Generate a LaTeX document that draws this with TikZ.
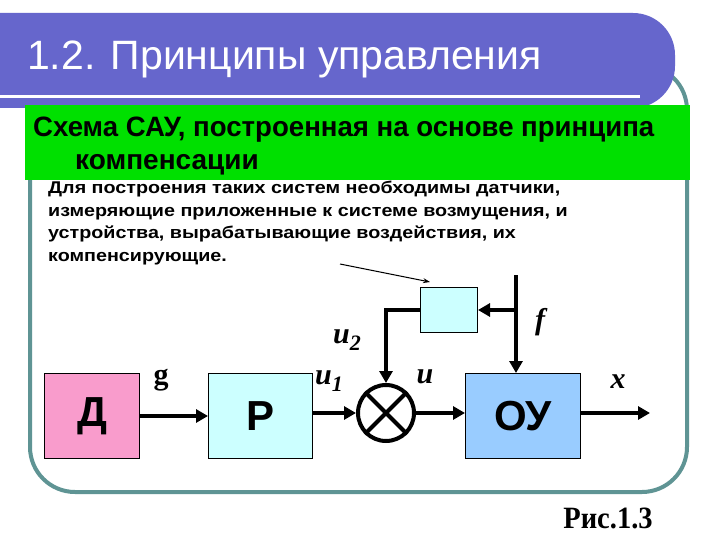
\documentclass[tikz,border=0pt]{standalone}
\usepackage{fontspec}
\setmainfont{Liberation Serif}
\setsansfont{Liberation Sans}
\usetikzlibrary{arrows.meta}
\definecolor{barc}{HTML}{6666CC}
\definecolor{framec}{HTML}{5F9494}
\definecolor{greenc}{HTML}{00E000}
\definecolor{pinkc}{HTML}{F99CCC}
\definecolor{cyanc}{HTML}{CCFFFF}
\definecolor{bluec}{HTML}{99CCFF}
\begin{document}
\begin{tikzpicture}[x=1pt,y=-1pt,
  blk/.style={draw=black,line width=1pt,inner sep=0pt,anchor=north west},
  sig/.style={line width=4.5pt,-{Triangle[length=12pt,width=13pt]}},
  lab/.style={font=\fontsize{30}{30}\selectfont\bfseries\itshape},
  para/.style={font=\sffamily\bfseries\fontsize{17}{17}\selectfont,anchor=base west,inner sep=0pt}]
\useasboundingbox (0,0) rectangle (720,540);
\fill[white] (0,0) rectangle (720,540);
% frame
\draw[framec,line width=4pt,rounded corners=45pt] (30,65) rectangle (687,492);
% title bar
\fill[barc,rounded corners=42pt] (-60,13) rectangle (675,108);
\draw[white,line width=3pt] (0,97) -- (640,97);
\node[white,font=\sffamily\fontsize{41}{41}\selectfont,anchor=base west,inner sep=0pt] (title) at (27,70) {1.2. Принципы управления};
% green band
\fill[greenc] (25,105) rectangle (690,180);
\node[font=\sffamily\bfseries\fontsize{28}{28}\selectfont,anchor=base west,inner sep=0pt] (h1) at (33,137) {\scalebox{0.985}[1]{Схема САУ, построенная на основе принципа}};
\node[font=\sffamily\bfseries\fontsize{28}{28}\selectfont,anchor=base west,inner sep=0pt] (h2) at (75,170) {компенсации};
% paragraph
\node[para] (p1) at (48,194) {\scalebox{1.16}[1]{Для построения таких систем необходимы датчики,}};
\node[para] (p2) at (48,217) {\scalebox{1.16}[1]{измеряющие приложенные к системе возмущения, и}};
\node[para] (p3) at (48,239) {\scalebox{1.16}[1]{устройства, вырабатывающие воздействия, их}};
\node[para] (p4) at (48,261) {\scalebox{1.16}[1]{компенсирующие.}};
% blocks
\node[blk,fill=pinkc,minimum width=95pt,minimum height=85pt,font=\sffamily\bfseries\fontsize{42}{42}\selectfont] (D) at (44,373) {Д};
\node[blk,fill=cyanc,minimum width=104pt,minimum height=85pt,font=\sffamily\bfseries\fontsize{42}{42}\selectfont] (R) at (208,373) {Р};
\node[blk,fill=bluec,minimum width=115pt,minimum height=85pt,font=\sffamily\bfseries\fontsize{42}{42}\selectfont] (OU) at (465,373) {ОУ};
\node[blk,fill=cyanc,minimum width=57pt,minimum height=45pt] (K) at (420,287) {};
\node[draw,line width=4pt,circle,minimum size=56pt,inner sep=0pt] (S) at (386,413) {};
\draw[line width=4pt] (S.north west) -- (S.south east) (S.north east) -- (S.south west);
% connectors
\draw[sig] (D.east |- 0,416) -- (R.west |- 0,416);
\draw[sig] (R.east |- S) -- (S.west);
\draw[sig] (S.east) -- (OU.west |- S);
\coordinate (xend) at (650,413);
\draw[sig] (OU.east |- S) -- (xend);
\coordinate (ftop) at (516,275);
\coordinate (fbr) at (516,310);
\draw[line width=4.5pt] (ftop) -- (fbr);
\draw[sig] (fbr) -- (OU.north -| fbr);
\draw[sig] (fbr) -- (K.east |- fbr);
\draw[sig] (K.west |- fbr) -| (S.north);
\coordinate (pa) at (340,264);
\coordinate (pb) at (430,282);
\draw[line width=1pt,-{Stealth[length=7pt,width=5pt]}] (pa) -- (pb);
% labels
\node[font=\fontsize{30}{30}\selectfont\bfseries] (g) at (161,380) {g};
\node[lab] (u1) at (329,381) {u\raisebox{-7pt}{\fontsize{22}{22}\selectfont 1}};
\node[lab] (u2) at (347,340) {u\raisebox{-7pt}{\fontsize{22}{22}\selectfont 2}};
\node[lab] (u) at (425,377) {u};
\node[lab] (f) at (540,322) {f};
\node[lab] (x) at (618,382) {x};
\node[font=\bfseries\fontsize{31}{31}\selectfont] (cap) at (608,518) {\scalebox{0.92}[1]{Рис.1.3}};
\end{tikzpicture}
\end{document}
